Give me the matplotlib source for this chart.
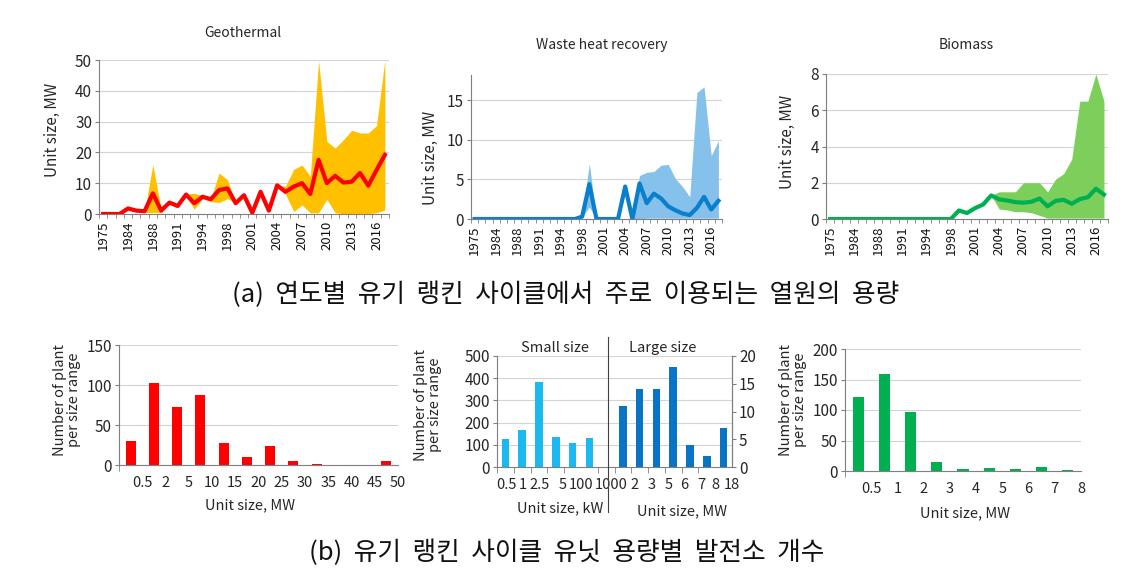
import numpy as np
import matplotlib
matplotlib.use('Agg')
import matplotlib.pyplot as plt
from matplotlib.lines import Line2D

plt.rcParams['font.family'] = ['Noto Sans CJK KR', 'DejaVu Sans']

# Years (categories, labels every 3rd)
annees = [1975, 1980, 1982, 1984, 1985, 1987, 1988, 1989, 1990, 1991, 1992,
          1993, 1994, 1996, 1997, 1998, 1999, 2000, 2001, 2002, 2003, 2004,
          2005, 2006, 2007, 2008, 2009, 2010, 2011, 2012, 2013, 2014, 2015,
          2016, 2017]

# Geothermal unit size, MW
geo_moy = [0, 0, 0, 1.8, 1.1, 0.9, 6.7, 1.1, 3.7, 2.6, 6.3, 3.5, 5.6, 4.8,
           7.8, 8.3, 3.5, 6.1, 0.4, 7.2, 1.1, 9.3, 7.2, 8.9, 10.0, 6.5, 17.6,
           10.0, 12.4, 10.2, 10.5, 13.3, 9.2, 14.3, 19.2]
geo_max = [0, 0, 0, 2.5, 1.5, 1.0, 16.0, 1.5, 4.0, 2.6, 6.5, 6.7, 6.0, 5.0,
           13.3, 11.1, 3.5, 6.1, 0.4, 7.2, 1.1, 9.3, 9.0, 14.5, 15.9, 12.2,
           49.7, 23.6, 21.4, 24.1, 27.2, 26.3, 26.3, 28.7, 50.0]
geo_min = [0, 0, 0, 1.5, 1.0, 0.5, 0.5, 0.5, 3.5, 2.6, 6.0, 1.5, 5.0, 4.0,
           3.7, 5.0, 3.5, 6.1, 0.4, 7.2, 1.1, 9.3, 6.5, 0.8, 2.9, 0.4, 0.4,
           4.8, 0.4, 0.1, 0.1, 0.1, 0.1, 0.4, 1.3]

# Waste heat recovery unit size, MW
whr_moy = [0] * 15 + [0.3, 4.4, 0, 0, 0, 0, 4.1, 0, 4.5, 2.0, 3.2, 2.6, 1.6,
                      1.1, 0.7, 0.5, 1.4, 2.8, 1.2, 2.3]
whr_max = [0] * 15 + [0.3, 7.0, 0, 0, 0, 0, 4.1, 0, 5.5, 5.9, 6.0, 6.8, 6.9,
                      5.1, 4.1, 2.8, 16.0, 16.7, 8.0, 9.9]
whr_min = [0] * 15 + [0.3, 1.5, 0, 0, 0, 0, 4.1, 0, 0, 0.1, 0.1, 0.1, 0.1,
                      0.1, 0.1, 0.1, 0.1, 0.1, 0.1, 0.1]

# Biomass unit size, MW
bio_moy = [0] * 16 + [0.47, 0.33, 0.6, 0.8, 1.3, 1.08, 1.02, 0.93, 0.9, 0.95,
                      1.13, 0.7, 1.0, 1.06, 0.84, 1.1, 1.2, 1.67, 1.35]
bio_max = [0] * 16 + [0.47, 0.33, 0.6, 0.8, 1.3, 1.5, 1.5, 1.5, 2.0, 2.0,
                      2.0, 1.5, 2.2, 2.5, 3.3, 6.5, 6.5, 8.0, 6.5]
bio_min = [0] * 16 + [0.47, 0.33, 0.6, 0.8, 1.3, 0.55, 0.5, 0.4, 0.4, 0.35,
                      0.2, 0.05, 0.05, 0.05, 0.05, 0.05, 0.05, 0.05, 0.05]

# Histograms: number of plants per size range
geo_bornes = ['0.5', '2', '5', '10', '15', '20', '25', '30', '35', '40', '45', '50']
geo_nb = [30, 102, 72, 88, 28, 10, 24, 5.4, 1, 0, 0, 4.5]

whr_petit_lab = ['0.5', '1', '2.5', '5', '100', '1000']
whr_petit_nb = [128, 168, 383, 135, 108, 130]
whr_grand_lab = ['2', '3', '5', '6', '7', '8', '18']
whr_grand_nb = [11, 14, 14, 18, 4, 2, 7]

bio_bornes = ['0.5', '1', '2', '3', '4', '5', '6', '7', '8']
bio_nb = [121, 159, 96, 15, 3, 5.5, 3, 6.5, 1.5]

W, H = 1132, 570
GRIS = '#7f7f7f'
GRILLE = '#d4d4d4'
TEXTE = '#262626'


def rect(x0, y0, x1, y1):
    """pixel box (top-left origin) -> figure fraction"""
    return [x0 / W, 1 - y1 / H, (x1 - x0) / W, (y1 - y0) / H]


def style_axes(ax, yticks, ysize=11):
    for s in ['top', 'right']:
        ax.spines[s].set_visible(False)
    ax.spines['left'].set_color(GRIS)
    ax.spines['bottom'].set_color(GRIS)
    ax.set_yticks(yticks)
    ax.tick_params(axis='y', length=3, color=GRIS, labelsize=ysize,
                   labelcolor=TEXTE, pad=2)
    for v in yticks[1:]:
        ax.axhline(v, color=GRILLE, lw=0.8, zorder=0)


def trace_annees(ax, moy, maxi, mini, c_band, c_line, ymax, yticks):
    x = np.arange(len(annees))
    ax.fill_between(x, mini, maxi, color=c_band, lw=0, zorder=1)
    ax.plot(x, moy, color=c_line, lw=3, zorder=2)
    ax.set_xlim(-0.5, len(annees) - 0.5)
    ax.set_ylim(0, ymax)
    style_axes(ax, yticks)
    pos = list(range(0, len(annees), 3))
    ax.set_xticks(pos)
    ax.set_xticklabels([str(annees[p]) for p in pos], rotation=90,
                       fontsize=9.5, color='#111111')
    ax.tick_params(axis='x', which='major', length=0, pad=5)
    ax.set_xticks(np.arange(-0.5, len(annees)), minor=True)
    ax.tick_params(axis='x', which='minor', length=3, color=GRIS)


def trace_histo(ax, nb, bornes, couleur, ymax, yticks):
    x = np.arange(len(nb)) + 0.5
    ax.bar(x, nb, width=0.42, color=couleur, zorder=2)
    ax.set_xlim(0, len(nb))
    ax.set_ylim(0, ymax)
    style_axes(ax, yticks, ysize=11)
    ax.set_xticks(np.arange(1, len(nb) + 1))
    ax.set_xticklabels(bornes, fontsize=10.5, color=TEXTE)
    ax.tick_params(axis='x', which='major', length=0, pad=8)
    ax.set_xticks(np.arange(0, len(nb) + 1), minor=True)
    ax.tick_params(axis='x', which='minor', length=4, color=GRIS)


fig = plt.figure(figsize=(W / 100, H / 100), dpi=100)

# --- (a) unit size by year ---
ax1 = fig.add_axes(rect(99, 60, 389, 214))
trace_annees(ax1, geo_moy, geo_max, geo_min, '#FFC000', '#FF0000', 50,
             [0, 10, 20, 30, 40, 50])
ax2 = fig.add_axes(rect(471, 75, 722, 219))
trace_annees(ax2, whr_moy, whr_max, whr_min, '#85C1EA', '#0A7FCC', 18.2,
             [0, 5, 10, 15])
ax3 = fig.add_axes(rect(826, 74, 1108, 219))
trace_annees(ax3, bio_moy, bio_max, bio_min, '#7DCF5C', '#00B050', 8,
             [0, 2, 4, 6, 8])

titres = [('Geothermal', 243, 33), ('Waste heat recovery', 602, 45),
          ('Biomass', 966, 45)]
for t, px, py in titres:
    fig.text(px / W, 1 - py / H, t, ha='center', va='center', fontsize=10,
             color=TEXTE)
for px, py in [(52, 130), (430, 158), (787, 142)]:
    fig.text(px / W, 1 - py / H, 'Unit size, MW', rotation=90, ha='center',
             va='center', fontsize=11, color=TEXTE)

fig.text(566 / W, 1 - 295 / H,
         '(a)  연도별  유기  랭킨  사이클에서  주로  이용되는  열원의  용량',
         ha='center', va='center', fontsize=18.5, color='#111111')

# --- (b) number of plants per size range ---
ax4 = fig.add_axes(rect(119, 345, 398, 465))
trace_histo(ax4, geo_nb, geo_bornes, '#FF0000', 150, [0, 50, 100, 150])

ax6 = fig.add_axes(rect(845, 349, 1081, 471))
trace_histo(ax6, bio_nb, bio_bornes, '#00B050', 200, [0, 50, 100, 150, 200])

# waste heat: small (kW, left scale) and large (MW, right scale)
ax5 = fig.add_axes(rect(497, 356, 732, 467))
n_tot = len(whr_petit_nb) + 1 + len(whr_grand_nb)
ax5.bar(np.arange(len(whr_petit_nb)) + 0.5, whr_petit_nb, width=0.45,
        color='#1CB8F0', zorder=2)
ax5.set_xlim(0, n_tot)
ax5.set_ylim(0, 500)
style_axes(ax5, [0, 100, 200, 300, 400, 500], ysize=11)
ax5.spines['right'].set_visible(True)
ax5.spines['right'].set_color(GRIS)
ax5b = ax5.twinx()
x_grand = np.arange(len(whr_grand_nb)) + len(whr_petit_nb) + 1.5
ax5b.bar(x_grand, whr_grand_nb, width=0.45, color='#0A74C4', zorder=2)
ax5b.set_ylim(0, 20)
ax5b.set_yticks([0, 5, 10, 15, 20])
ax5b.tick_params(axis='y', length=3, color=GRIS, labelsize=11,
                 labelcolor=TEXTE, pad=2)
for s in ['top', 'left', 'bottom']:
    ax5b.spines[s].set_visible(False)
ax5b.spines['right'].set_color(GRIS)

lab_pos = [0.56, 1.56, 2.56, 3.9, 5.0, 6.8, 8.2, 9.2, 10.2, 11.16, 12.16,
           13.0, 14.0]
ax5.set_xticks(lab_pos)
ax5.set_xticklabels(whr_petit_lab + whr_grand_lab, fontsize=10.5, color=TEXTE)
ax5.tick_params(axis='x', which='major', length=0, pad=8)
ax5.set_xticks(np.arange(0, n_tot + 1), minor=True)
ax5.tick_params(axis='x', which='minor', length=4, color=GRIS)

fig.add_artist(Line2D([608 / W, 608 / W], [1 - 337 / H, 1 - 512 / H],
                      color='#404040', lw=0.8))
fig.text(555 / W, 1 - 348 / H, 'Small size', ha='center', va='center',
         fontsize=10.5, color=TEXTE)
fig.text(663 / W, 1 - 348 / H, 'Large size', ha='center', va='center',
         fontsize=10.5, color=TEXTE)

ylab = 'Number of plant\nper size range'
for px, py in [(67, 400), (428, 405), (793, 400)]:
    fig.text(px / W, 1 - py / H, ylab, rotation=90, ha='center', va='center',
             fontsize=10.5, color=TEXTE, linespacing=1.0)
for t, px, py in [('Unit size, MW', 250, 505), ('Unit size, kW', 560, 508),
                  ('Unit size, MW', 682, 511), ('Unit size, MW', 965, 513)]:
    fig.text(px / W, 1 - py / H, t, ha='center', va='center', fontsize=10.5,
             color=TEXTE)

fig.text(567 / W, 1 - 553 / H,
         '(b)  유기  랭킨  사이클  유닛  용량별  발전소  개수',
         ha='center', va='center', fontsize=18.5, color='#111111')

fig.savefig('out.png', dpi=100)
